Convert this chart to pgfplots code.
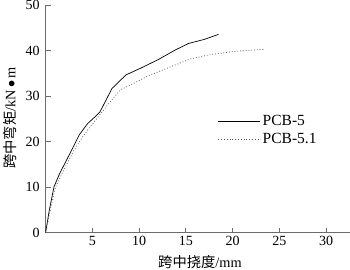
\documentclass[border=0pt]{standalone}
\usepackage{pgfplots}
\pgfplotsset{compat=1.18}
\usepackage{fontspec}
\setmainfont{Liberation Serif}
\newfontfamily\cjk{Noto Sans CJK SC}
\begin{document}
\begin{tikzpicture}
\begin{axis}[
  at={(0,0)}, anchor=south west,
  scale only axis, width=304.4pt, height=227.5pt,
  xmin=0, xmax=32.55, ymin=0, ymax=50,
  axis x line*=bottom, axis y line*=left,
  axis line style={-, draw=gray!85!black, line width=0.8pt},
  tick style={draw=gray!85!black, line width=0.8pt},
  major tick length=5pt,
  xtick={5,10,15,20,25,30}, ytick={0,10,20,30,40,50},
  tick label style={font=\fontsize{14}{16}\selectfont},
  yticklabel style={xshift=-2.5pt},
  /pgf/number format/assume math mode=true,
  xlabel={{\cjk 跨中挠度}/mm},
  ylabel={{\cjk 跨中弯矩}/kN\,$\bullet$\,m},
  label style={font=\fontsize{14.3}{16}\selectfont},
  xlabel style={at={(axis description cs:0.507,0)}, anchor=center, yshift=-29.3pt},
  ylabel style={at={(axis description cs:0,0.505)}, anchor=center, yshift=35.6pt},
  legend style={draw=none, fill=none, at={(axis cs:18.3,26.5)}, anchor=north west,
    font=\fontsize{15.5}{17}\selectfont, row sep=2pt, inner sep=1pt},
  legend cell align=left,
  legend image code/.code={\draw[#1] (0pt,0pt) -- (42pt,0pt);},
]
\addplot[black, line width=0.7pt] coordinates {
(0,0) (0.4,5) (0.9,10.1) (1.5,13) (2.5,17) (3.6,21.5) (4.5,24) (5.3,25.5) (5.8,26.5)
(7.1,31.7) (8.6,34.7) (10,36) (12,38) (13.9,40.2) (15.3,41.6) (17,42.5) (18.5,43.6)};
\addlegendentry{PCB-5}
\addplot[gray!70!black, dotted, line width=0.8pt] coordinates {
(0,0) (0.5,5) (1.07,10.1) (2,14) (3,18) (4.1,21.5) (5.9,26.2) (7,29) (8,31.4)
(9.4,32.8) (11,34.5) (13.9,36.9) (15.5,38.2) (17.5,39.1) (20,39.8) (23.3,40.3)};
\addlegendentry{PCB-5.1}
\end{axis}
\pgfresetboundingbox
\path[use as bounding box] (-45.6pt,-36.3pt) rectangle (304.4pt,232.7pt);
\end{tikzpicture}
\end{document}
